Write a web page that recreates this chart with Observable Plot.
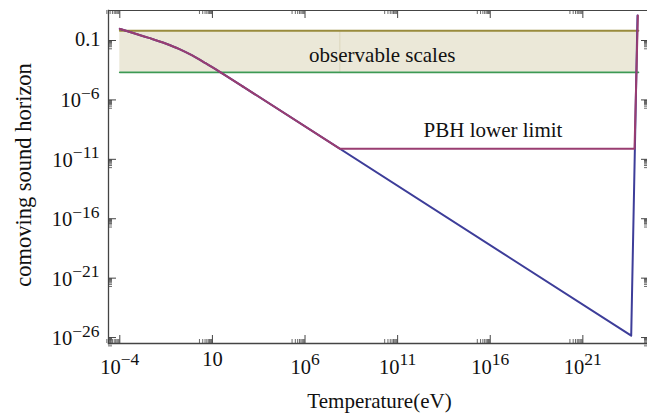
<!DOCTYPE html>
<html><head><meta charset="utf-8">
<script src="https://cdn.jsdelivr.net/npm/d3@7"></script>
<script src="https://cdn.jsdelivr.net/npm/@observablehq/plot@0.6"></script>
<style>html,body{margin:0;padding:0;background:#fff;overflow:hidden} svg{display:block}</style>
</head><body><div id="chart"></div>
<script>
// values are log10 exponents
const blueLogT = [-4, -3.15, -2.43, -1.53, -0.81, -0.09, 0.63, 1.44, 2.61, 23.61, 23.95];
const blueLogH = [-0.02, -0.43, -0.78, -1.25, -1.70, -2.26, -2.91, -3.68, -4.84, -25.84, 1.10];
const purpleLogT = [-4, -3.15, -2.43, -1.53, -0.81, -0.09, 0.63, 1.44, 2.61, 7.87, 23.79, 23.97];
const purpleLogH = [-0.02, -0.43, -0.78, -1.25, -1.70, -2.26, -2.91, -3.68, -4.84, -10.10, -10.10, 1.10];
const smoothUntilLogT = 2.61; // the curved early part is drawn smoothly
const bandLogT = [-4, 24];
const bandLogLow = [-3.68, -3.68];
const bandLogHigh = [-0.18, -0.18];
const seamLogT = [7.88];
const xTickExp = [-4, 1, 6, 11, 16, 21];
const xTickLabels = ["10^-4", "10", "10^6", "10^11", "10^16", "10^21"];
const yTickExp = [-1, -6, -11, -16, -21, -26];
const yTickLabels = ["0.1", "10^-6", "10^-11", "10^-16", "10^-21", "10^-26"];
const notes = ["observable scales", "PBH lower limit"];
const noteLogT = [10.17, 16.15];
const noteLogH = [-2.77, -9.14];
const xTitle = "Temperature(eV)";
const yTitle = "comoving sound horizon";

const BLUE = "rgb(61,61,153)", PURPLE = "rgb(153,61,113)", OLIVE = "rgb(153,139,61)", GREEN = "rgb(61,153,84)";
const FRAME = "#444";

const W = 647, H = 414, mL = 108, mT = 10, mB = 71, mR = 0;
const pw = W - mL - mR, ph = H - mT - mB;
const pow = e => Math.pow(10, e);

const blue = blueLogT.map((t, i) => ({lt: t, T: pow(t), h: pow(blueLogH[i])}));
const purple = purpleLogT.map((t, i) => ({lt: t, T: pow(t), h: pow(purpleLogH[i])}));
const early = arr => arr.filter(d => d.lt <= smoothUntilLogT);
const late = arr => arr.filter(d => d.lt >= smoothUntilLogT);
const band = bandLogT.map((t, i) => ({T: pow(t), lo: pow(bandLogLow[i]), hi: pow(bandLogHigh[i])}));
const seam = seamLogT.map(t => ({T: pow(t), lo: pow(bandLogLow[0]), hi: pow(bandLogHigh[0])}));
const noteData = notes.map((s, i) => ({s, T: pow(noteLogT[i]), h: pow(noteLogH[i])}));

const xMajor = xTickExp.map(pow);
const yMajor = yTickExp.map(pow);
const minorOf = exps => exps.flatMap(k => [2,3,4,5,6,7,8,9].map(m => m * pow(k - 1)));
const xMinor = minorOf(xTickExp);
const yMinor = minorOf(yTickExp);
const xLab = xTickExp.map((k, i) => ({v: pow(k), s: xTickLabels[i]}));
const yLab = yTickExp.map((k, i) => ({v: pow(k), s: yTickLabels[i]}));
const hasExp = d => d.s.includes("^");

const plot = Plot.plot({
  width: W, height: H,
  marginLeft: mL, marginTop: mT, marginBottom: mB, marginRight: mR,
  style: {fontFamily: "'Liberation Serif', 'Times New Roman', serif", background: "#fff", color: "#111"},
  x: {type: "log", domain: [pow(-4.61), pow(24.49)], axis: null},
  y: {type: "log", domain: [pow(-26.5), pow(1.525)], axis: null},
  marks: [
    Plot.areaY(band, {x: "T", y1: "lo", y2: "hi", fill: OLIVE, fillOpacity: 0.2}),
    Plot.ruleX(seam, {x: "T", y1: "lo", y2: "hi", stroke: OLIVE, strokeOpacity: 0.18, strokeWidth: 1}),
    Plot.line(band, {x: "T", y: "hi", stroke: OLIVE, strokeWidth: 1.8}),
    Plot.line(band, {x: "T", y: "lo", stroke: GREEN, strokeWidth: 1.8}),
    Plot.line(early(blue), {x: "T", y: "h", stroke: BLUE, strokeWidth: 2, curve: "monotone-x"}),
    Plot.line(late(blue), {x: "T", y: "h", stroke: BLUE, strokeWidth: 2}),
    Plot.line(early(purple), {x: "T", y: "h", stroke: PURPLE, strokeWidth: 2, curve: "monotone-x"}),
    Plot.line(late(purple), {x: "T", y: "h", stroke: PURPLE, strokeWidth: 2}),
    Plot.text(noteData, {x: "T", y: "h", text: "s", lineAnchor: "bottom", fontSize: 21, fill: "#111"}),
    Plot.frame({anchor: "left", stroke: FRAME, strokeWidth: 1.3}),
    Plot.frame({anchor: "bottom", stroke: FRAME, strokeWidth: 1.3}),
    Plot.frame({anchor: "top", stroke: FRAME, strokeWidth: 1.1}),
    // inward ticks on all sides
    Plot.tickX(xMajor, {x: d => d, insetTop: ph - 8, stroke: FRAME}),
    Plot.tickX(xMinor, {x: d => d, insetTop: ph - 4, stroke: FRAME, strokeWidth: 0.8}),
    Plot.tickX(xMajor, {x: d => d, insetBottom: ph - 8, stroke: FRAME}),
    Plot.tickX(xMinor, {x: d => d, insetBottom: ph - 4, stroke: FRAME, strokeWidth: 0.8}),
    Plot.tickY(yMajor, {y: d => d, insetRight: pw - 8, stroke: FRAME}),
    Plot.tickY(yMinor, {y: d => d, insetRight: pw - 4, stroke: FRAME, strokeWidth: 0.8}),
    Plot.tickY(yMajor, {y: d => d, insetLeft: pw - 6, stroke: FRAME}),
    Plot.tickY(yMinor, {y: d => d, insetLeft: pw - 3, stroke: FRAME, strokeWidth: 0.8}),
    // tick labels
    Plot.text(xLab.filter(hasExp), {x: "v", text: "s", frameAnchor: "bottom", textAnchor: "middle", lineAnchor: "bottom", dy: 30, fontSize: 20.5, fill: "#111"}),
    Plot.text(xLab.filter(d => !hasExp(d)), {x: "v", text: "s", frameAnchor: "bottom", textAnchor: "middle", lineAnchor: "bottom", dy: 22, fontSize: 20.5, fill: "#111"}),
    Plot.text(yLab.filter(hasExp), {y: "v", text: "s", frameAnchor: "left", textAnchor: "end", lineAnchor: "bottom", dx: -9, dy: 7.5, fontSize: 20.5, fill: "#111"}),
    Plot.text(yLab.filter(d => !hasExp(d)), {y: "v", text: "s", frameAnchor: "left", textAnchor: "end", lineAnchor: "bottom", dx: -8, dy: 5, fontSize: 20.5, fill: "#111"}),
    // axis titles
    Plot.text([xTitle], {text: d => d, frameAnchor: "bottom", textAnchor: "middle", lineAnchor: "bottom", dy: 64, dx: 1.5, fontSize: 21, fill: "#111"}),
    Plot.text([yTitle], {text: d => d, frameAnchor: "left", textAnchor: "middle", rotate: -90, lineAnchor: "bottom", dx: -78, dy: -2, fontSize: 22.5, fill: "#111"})
  ]
});

// render exponents as raised, smaller text
d3.select(plot).selectAll("text").each(function () {
  const s = this.textContent;
  const i = s.indexOf("^");
  if (i < 0) return;
  const base = s.slice(0, i), exp = s.slice(i + 1).replace("-", "\u2212");
  while (this.firstChild) this.removeChild(this.firstChild);
  const t = d3.select(this);
  t.append("tspan").text(base);
  t.append("tspan").attr("dy", "-8.4").attr("font-size", "17.5").text(exp);
});

document.getElementById("chart").appendChild(plot);
</script>
</body></html>
